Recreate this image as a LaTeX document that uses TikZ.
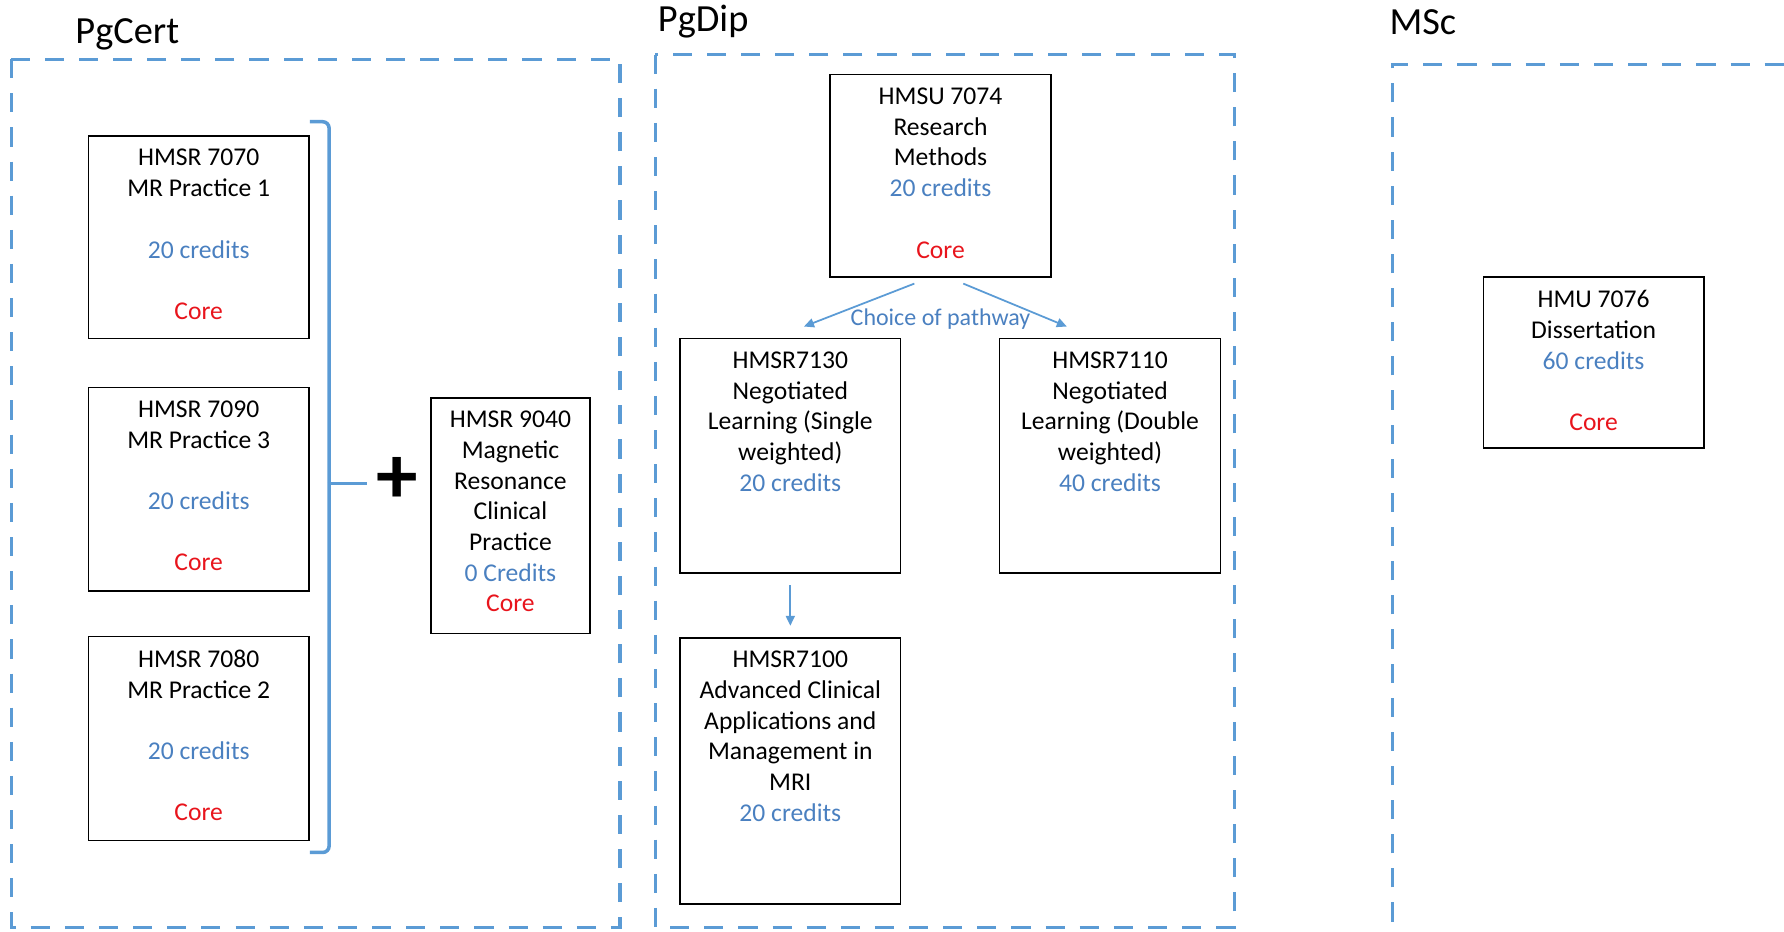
\documentclass[tikz,border=0pt]{standalone}
\usepackage{fontspec}
\setmainfont{Carlito}
\usepackage{tikz}
\usepackage{xcolor}
\usetikzlibrary{arrows.meta, positioning, calc}
\definecolor{FrameBlue}{HTML}{5B9BD5}
\definecolor{CreditBlue}{HTML}{4A80C0}
\definecolor{CoreRed}{HTML}{E8141C}

\tikzset{
    module/.style 2 args={draw=black, line width=0.9pt, inner sep=0pt, anchor=north west,
        font=\fontsize{16}{19.2}\selectfont,
        execute at begin node={\begin{minipage}[c][#2][t]{#1}\centering\vspace*{0.29cm}},
        execute at end node={\end{minipage}}},
    stage/.style={dash pattern=on 0.42cm off 0.33cm, line width=2pt, draw=FrameBlue},
    stagetitle/.style={anchor=base west, inner sep=0pt, font=\fontsize{24}{28}\selectfont},
    pathway/.style={draw=FrameBlue, line width=1.1pt, -{Triangle[length=0.22cm, width=0.2cm]}},
    brace/.style={draw=FrameBlue, line width=2.2pt, rounded corners=4pt}
}
\newcommand{\cred}[1]{\textcolor{CreditBlue}{#1}}
\newcommand{\core}{\textcolor{CoreRed}{Core}}

\begin{document}
\begin{tikzpicture}
    \useasboundingbox (0,0) rectangle (39.2,-20.475);

    % stage frames
    \draw[stage] (0.25,-1.3) rectangle (13.625,-20.375);
    \draw[stage] (14.4,-1.2) rectangle (27.125,-20.375);
    \draw[stage] (30.6,-21) -- (30.6,-1.425) -- (40,-1.425);

    \node[stagetitle] (pgcert) at (1.65,-0.95) {PgCert};
    \node[stagetitle] (pgdip) at (14.45,-0.7) {PgDip};
    \node[stagetitle] (msc) at (30.525,-0.75) {MSc};

    % PgCert
    \node[module={4.85cm}{4.45cm}] (c7070) at (1.925,-2.975) {
        HMSR 7070\\ MR Practice 1\\[\baselineskip] \cred{20 credits}\\[\baselineskip] \core};
    \node[module={4.85cm}{4.475cm}] (c7090) at (1.925,-8.5) {
        HMSR 7090\\ MR Practice 3\\[\baselineskip] \cred{20 credits}\\[\baselineskip] \core};
    \node[module={4.85cm}{4.475cm}] (c7080) at (1.925,-13.975) {
        HMSR 7080\\ MR Practice 2\\[\baselineskip] \cred{20 credits}\\[\baselineskip] \core};
    \node[module={3.5cm}{5.175cm}] (c9040) at (9.45,-8.725) {
        HMSR 9040\\ Magnetic\\ Resonance\\ Clinical\\ Practice\\ \cred{0 Credits}\\ \core};

    \coordinate (bracetop) at ($(c7070.north east)+(0,0.3)$);
    \coordinate (bracebot) at ($(c7080.south east)+(0,-0.25)$);
    \coordinate (bracemid) at (7.2,-10.625);
    \draw[brace] (bracetop) -| ($(bracebot)+(0.425,0)$) -- (bracebot);
    \draw[brace] (bracemid) -- ($(bracemid)+(0.875,0)$);
    \node[font=\fontsize{52}{52}\selectfont\bfseries, inner sep=0pt] (plus) at (8.725,-10.55) {+};

    % PgDip
    \node[module={4.85cm}{4.45cm}] (r7074) at (18.225,-1.625) {
        HMSU 7074\\ Research\\ Methods\\ \cred{20 credits}\\[\baselineskip] \core};
    \node[module={4.85cm}{5.15cm}] (r7130) at (14.925,-7.425) {
        HMSR7130\\ Negotiated\\ Learning (Single\\ weighted)\\ \cred{20 credits}};
    \node[module={4.85cm}{5.15cm}] (r7110) at (21.95,-7.425) {
        HMSR7110\\ Negotiated\\ Learning (Double\\ weighted)\\ \cred{40 credits}};
    \node[module={4.85cm}{5.85cm}] (r7100) at (14.925,-14.0) {
        HMSR7100\\ Advanced Clinical\\ Applications and\\ Management in\\ MRI\\ \cred{20 credits}};

    \draw[pathway] ([xshift=-0.575cm, yshift=-0.125cm]r7074.south) -- ([xshift=0.3cm, yshift=0.25cm]r7130.north);
    \draw[pathway] ([xshift=0.5cm, yshift=-0.125cm]r7074.south) -- ([xshift=-0.95cm, yshift=0.25cm]r7110.north);
    \node[font=\fontsize{15}{18}\selectfont, text=CreditBlue, inner sep=0pt] (choice)
        at ($(r7074.south)+(0,-0.9)$) {Choice of pathway};
    \draw[pathway] ([yshift=-0.25cm]r7130.south) -- ([yshift=0.25cm]r7100.north);

    % MSc
    \node[module={4.85cm}{3.75cm}] (d7076) at (32.575,-6.075) {
        HMU 7076\\ Dissertation\\ \cred{60 credits}\\[\baselineskip] \core};
\end{tikzpicture}
\end{document}
